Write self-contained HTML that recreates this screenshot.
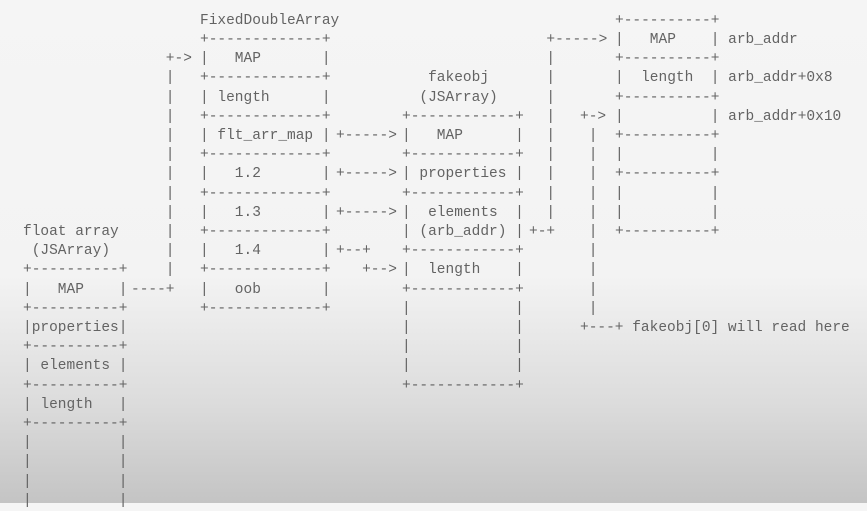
<!DOCTYPE html>
<html><head><meta charset="utf-8"><style>
html,body{margin:0;padding:0;}
body{width:867px;height:503px;overflow:hidden;position:relative;
background:linear-gradient(180deg,#f5f5f5 0%,#f3f3f3 55%,#dcdcdc 80%,#c4c4c4 100%);}
pre{position:absolute;margin:0;font-family:"Liberation Mono",monospace;font-size:14.5px;line-height:19.2px;color:#636363;}
</style></head><body>
<pre style="left:23px;top:223px">float array
 (JSArray)
+----------+
|   MAP    |
+----------+
|properties|
+----------+
| elements |
+----------+
| length   |
+----------+
|          |
|          |
|          |
|          |</pre>
<pre style="left:131px;top:50.2px">    +->
    |
    |
    |
    |
    |
    |
    |
    |
    |
    |
    |
----+</pre>
<pre style="left:200px;top:11.8px">FixedDoubleArray
+-------------+
|   MAP       |
+-------------+
| length      |
+-------------+
| flt_arr_map |
+-------------+
|   1.2       |
+-------------+
|   1.3       |
+-------------+
|   1.4       |
+-------------+
|   oob       |
+-------------+</pre>
<pre style="left:336px;top:127px">+----->

+----->

+----->

+--+
   +--></pre>
<pre style="left:402px;top:69.4px">   fakeobj
  (JSArray)
+------------+
|   MAP      |
+------------+
| properties |
+------------+
|  elements  |
| (arb_addr) |
+------------+
|  length    |
+------------+
|            |
|            |
|            |
|            |
+------------+</pre>
<pre style="left:529px;top:31px">  +----->
  |
  |
  |
  |
  |
  |
  |
  |
  |
+-+</pre>
<pre style="left:580px;top:107.8px">+->
 |
 |
 |
 |
 |
 |
 |
 |
 |
 |
+---+ fakeobj[0] will read here</pre>
<pre style="left:615px;top:11.8px">+----------+
|   MAP    | arb_addr
+----------+
|  length  | arb_addr+0x8
+----------+
|          | arb_addr+0x10
+----------+
|          |
+----------+
|          |
|          |
+----------+</pre>
</body></html>
